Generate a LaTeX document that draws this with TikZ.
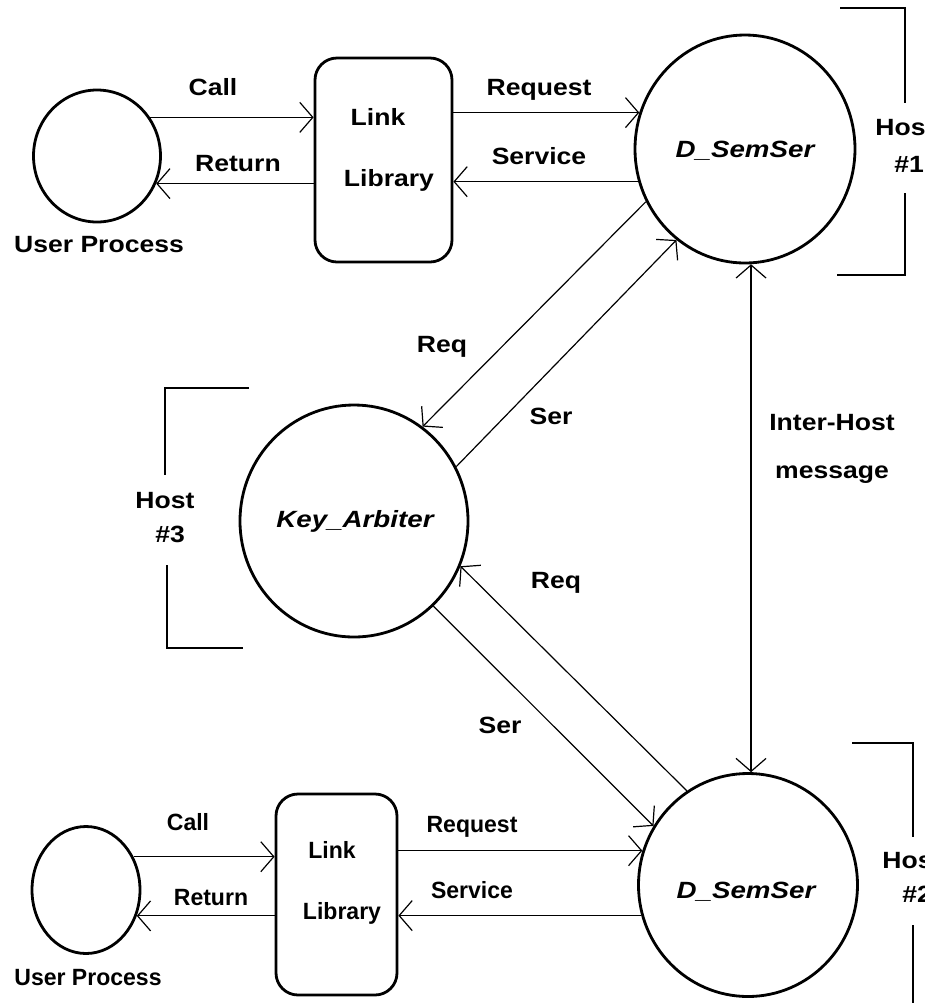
\documentclass[tikz,border=0pt]{standalone}
\usepackage{fontspec}
\usetikzlibrary{arrows.meta,shapes.geometric}
\newfontfamily\lblT{Liberation Sans}[FakeStretch=1.13]
\newfontfamily\lblB{Liberation Sans}[FakeStretch=0.98]
\newfontfamily\itl{Liberation Sans}[FakeStretch=1.18]
\begin{document}
\begin{tikzpicture}[x=0.5pt,y=-0.5pt,
 lt/.style={font=\lblT\bfseries\fontsize{11.75pt}{14pt}\selectfont, inner sep=0pt, anchor=base},
 lb/.style={font=\lblB\bfseries\fontsize{11.75pt}{14pt}\selectfont, inner sep=0pt, anchor=base},
 il/.style={font=\itl\bfseries\itshape\fontsize{11.75pt}{14pt}\selectfont, inner sep=0pt, anchor=base},
 proc/.style={ellipse, draw, line width=1.4pt, inner sep=0pt},
 lib/.style={rectangle, rounded corners=11pt, draw, line width=1.4pt, inner sep=0pt},
 arr/.style={-{Straight Barb[length=6.5pt,width=15pt]}, line width=0.6pt},
 darr/.style={{Straight Barb[length=6.5pt,width=15pt]}-{Straight Barb[length=6.5pt,width=15pt]}, line width=0.6pt},
 brk/.style={line width=0.7pt}]
\useasboundingbox (0,0) rectangle (942,1003);
\begin{scope}
\clip (0,0) rectangle (924,1003);
% nodes
\node[proc, minimum width=63.5pt, minimum height=66pt] (up1) at (97,156) {};
\node[lib, minimum width=68.5pt, minimum height=102pt] (ll1) at (383.5,160) {};
\node[proc, minimum width=110pt, minimum height=114pt] (ds1) at (745,149) {};
\node[proc, minimum width=114pt, minimum height=116pt] (ka) at (354,521) {};
\node[proc, minimum width=109.5pt, minimum height=111.5pt] (ds2) at (748,885) {};
\node[proc, minimum width=54pt, minimum height=63.5pt] (up2) at (86,890) {};
\node[lib, minimum width=60.5pt, minimum height=100.5pt] (ll2) at (336.5,894.5) {};
% top connectors
\draw[arr] (up1.36) -- (ll1.west |- up1.36);
\draw[arr] (ll1.west |- up1.-25) -- (up1.-25);
\draw[arr] (ll1.east |- ds1.161.6) -- (ds1.161.6);
\draw[arr] (ds1.197.4) -- (ll1.east |- ds1.197.4);
% diagonals
\draw[arr] (ds1.208) -- (ka.54);
\draw[arr] (ka.28) -- (ds1.233.6);
\draw[arr] (ds2.123) -- (ka.-23);
\draw[arr] (ka.-47) -- (ds2.148);
% inter-host
\coordinate (ihtop) at (ds1.273.5);
\draw[darr] (ihtop) -- (ihtop |- ds2.88);
% bottom connectors
\draw[arr] (up2.35.6) -- (ll2.west |- up2.35.6);
\draw[arr] (ll2.west |- up2.-27.2) -- (up2.-27.2);
\draw[arr] (ll2.east |- ds2.162.2) -- (ds2.162.2);
\draw[arr] (ds2.196.1) -- (ll2.east |- ds2.196.1);
% brackets
\draw[brk] (840,8) -- (905,8) -- (905,103);
\draw[brk] (905,193) -- (905,275) -- (837,275);
\draw[brk] (249,388) -- (165,388) -- (165,475);
\draw[brk] (167,565) -- (167,648) -- (243,648);
\draw[brk] (852,743) -- (913,743) -- (913,837);
\draw[brk] (913,925) -- (913,1010);
% labels top
\node[lt] (tcall1) at (213,95) {Call};
\node[lt] (tret1) at (238,171) {Return};
\node[lt] (tup1) at (99,252) {User Process};
\node[lt] (tlink1) at (378,125) {Link};
\node[lt] (tlib1) at (389,186) {Library};
\node[lt] (treq1) at (539,95) {Request};
\node[lt] (tser1) at (539,164) {Service};
\node[il] (tds1) at (745,157) {D\_SemSer};
\node[lt, anchor=base west] (th1) at (875,135) {Host};
\node[lt, anchor=base west] (tn1) at (894,172) {\#1};
% labels middle
\node[lt] (treqa) at (442,352) {Req};
\node[lt] (tsera) at (551,424) {Ser};
\node[lt] (treqb) at (556,588) {Req};
\node[lt] (tserb) at (500,733) {Ser};
\node[il] (tka) at (355,527) {Key\_Arbiter};
\node[lt, anchor=base west] (th3) at (135,508) {Host};
\node[lt, anchor=base west] (tn3) at (155,542) {\#3};
\node[lt] (tih1) at (832,430) {Inter-Host};
\node[lt] (tih2) at (832,478) {message};
% labels bottom
\node[lb] (tcall2) at (188,830) {Call};
\node[lb] (tret2) at (211,905) {Return};
\node[lb] (tup2) at (88,985) {User Process};
\node[lb] (tlink2) at (332,858) {Link};
\node[lb] (tlib2) at (342,919) {Library};
\node[lb] (treq2) at (472,832) {Request};
\node[lb] (tser2) at (472,898) {Service};
\node[il] (tds2) at (746,898) {D\_SemSer};
\node[lt, anchor=base west] (th2) at (882,868) {Host};
\node[lt, anchor=base west] (tn2) at (902,902) {\#2};
\end{scope}
\end{tikzpicture}
\end{document}
